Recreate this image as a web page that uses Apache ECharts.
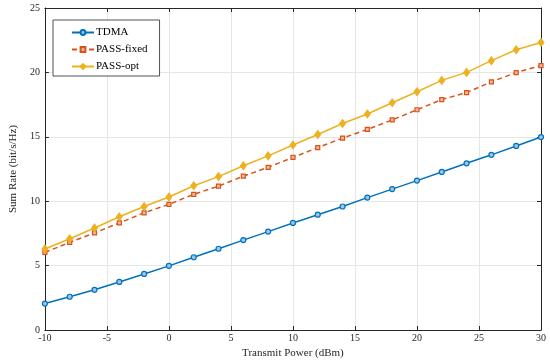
<!DOCTYPE html>
<html><head><meta charset="utf-8">
<script src="https://cdn.jsdelivr.net/npm/echarts@6/dist/echarts.min.js"></script>
<style>html,body{margin:0;padding:0;background:#fff}#c{width:550px;height:364px}</style>
</head><body><div id="c"></div>
<script>
const xValues = [-10,-8,-6,-4,-2,0,2,4,6,8,10,12,14,16,18,20,22,24,26,28,30];
const tdma = [2.05,2.58,3.12,3.73,4.35,4.98,5.65,6.31,6.98,7.64,8.31,8.95,9.59,10.28,10.94,11.6,12.27,12.94,13.6,14.29,14.98];
const passFixed = [6.03,6.8,7.54,8.31,9.1,9.76,10.53,11.17,11.94,12.63,13.4,14.16,14.9,15.57,16.31,17.1,17.89,18.43,19.27,19.99,20.53];
const passOpt = [6.29,7.08,7.92,8.79,9.59,10.33,11.2,11.91,12.75,13.52,14.36,15.18,16.03,16.77,17.64,18.5,19.38,20.0,20.91,21.76,22.32];
const seriesNames = ['TDMA','PASS-fixed','PASS-opt'];
const xTicks = [-10,-5,0,5,10,15,20,25,30];
const yTicks = [0,5,10,15,20,25];

const font = 'Liberation Serif';
const pair = arr => xValues.map((x,i)=>[x,arr[i]]);
const chart = echarts.init(document.getElementById('c'));
const axisCommon = {
  axisLine:{show:true,onZero:false,lineStyle:{color:'#262626',width:1}},
  axisTick:{show:true,inside:true,length:4,lineStyle:{color:'#262626'}},
};
chart.setOption({
  animation:false,
  grid:{left:30,right:9,top:8,bottom:30,containLabel:false},
  legend:{
    left:53,top:20,orient:'vertical',
    data:seriesNames,
    backgroundColor:'#fff',borderColor:'#262626',borderWidth:0.8,
    padding:[7,12,4,18],itemGap:6,itemWidth:22,itemHeight:6,
    textStyle:{fontFamily:font,fontSize:11,color:'#000',padding:[0,0,0,-3]}
  },
  xAxis:[{
    type:'value',min:-10,max:30,interval:5,...axisCommon,
    name:'Transmit Power (dBm)',nameLocation:'middle',nameGap:18,
    nameTextStyle:{fontFamily:font,fontSize:11,color:'#262626'},
    axisLabel:{fontFamily:font,fontSize:10,color:'#262626',margin:3},
    splitLine:{show:true,lineStyle:{color:'#e6e6e6',width:1}}
  },{
    type:'value',position:'top',min:-10,max:30,interval:5,...axisCommon,
    axisLabel:{show:false},splitLine:{show:false}
  }],
  yAxis:[{
    type:'value',min:0,max:25,interval:5,...axisCommon,
    name:'Sum Rate (bit/s/Hz)',nameLocation:'middle',nameGap:19,
    nameTextStyle:{fontFamily:font,fontSize:11,color:'#262626'},
    axisLabel:{fontFamily:font,fontSize:10,color:'#262626',margin:5},
    splitLine:{show:true,lineStyle:{color:'#e6e6e6',width:1}}
  },{
    type:'value',position:'right',min:0,max:25,interval:5,...axisCommon,
    axisLabel:{show:false},splitLine:{show:false}
  }],
  series:[
    {name:seriesNames[0],type:'line',data:pair(tdma),symbol:'circle',symbolSize:5,
     lineStyle:{color:'#0072BD',width:1.5},
     itemStyle:{color:'#9cc6e6',borderColor:'#0072BD',borderWidth:1.2}},
    {name:seriesNames[1],type:'line',data:pair(passFixed),symbol:'rect',symbolSize:4,
     lineStyle:{color:'#D95319',width:1.5,type:[5,3.5]},
     itemStyle:{color:'#f3b9a0',borderColor:'#D95319',borderWidth:1.2}},
    {name:seriesNames[2],type:'line',data:pair(passOpt),symbol:'diamond',symbolSize:[6,8],
     lineStyle:{color:'#EDB120',width:1.5},
     itemStyle:{color:'#EDB120',borderColor:'#EDB120',borderWidth:1}}
  ]
});
</script></body></html>
